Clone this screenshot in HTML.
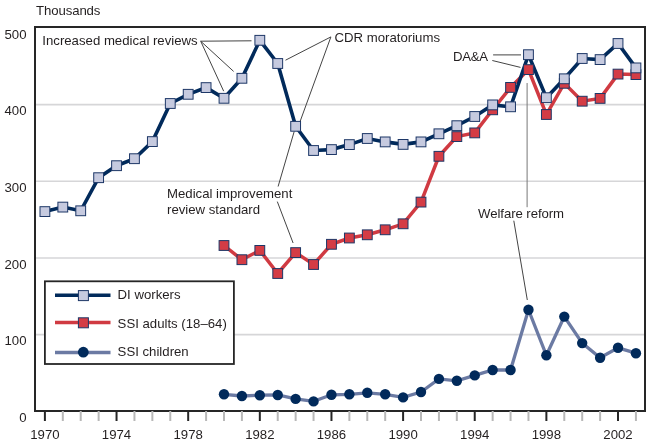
<!DOCTYPE html><html><head><meta charset="utf-8"><style>html,body{margin:0;padding:0;background:#fff;}svg{display:block;will-change:transform;}text{font-family:"Liberation Sans",sans-serif;}</style></head><body>
<svg width="650" height="444" viewBox="0 0 650 444">
<rect x="0" y="0" width="650" height="444" fill="#fff"/>
<line x1="36" y1="104.6" x2="644" y2="104.6" stroke="#d6d6d8" stroke-width="1.6"/>
<line x1="36" y1="181.3" x2="644" y2="181.3" stroke="#d6d6d8" stroke-width="1.6"/>
<line x1="36" y1="258.0" x2="644" y2="258.0" stroke="#d6d6d8" stroke-width="1.6"/>
<line x1="36" y1="334.6" x2="644" y2="334.6" stroke="#d6d6d8" stroke-width="1.6"/>
<rect x="35" y="27" width="610" height="384" fill="none" stroke="#262626" stroke-width="2"/>
<line x1="44.90" y1="411" x2="44.90" y2="421" stroke="#262626" stroke-width="2"/>
<line x1="62.81" y1="411" x2="62.81" y2="421" stroke="#b8b8b8" stroke-width="2"/>
<line x1="80.72" y1="411" x2="80.72" y2="421" stroke="#b8b8b8" stroke-width="2"/>
<line x1="98.63" y1="411" x2="98.63" y2="421" stroke="#b8b8b8" stroke-width="2"/>
<line x1="116.54" y1="411" x2="116.54" y2="421" stroke="#262626" stroke-width="2"/>
<line x1="134.45" y1="411" x2="134.45" y2="421" stroke="#b8b8b8" stroke-width="2"/>
<line x1="152.36" y1="411" x2="152.36" y2="421" stroke="#b8b8b8" stroke-width="2"/>
<line x1="170.27" y1="411" x2="170.27" y2="421" stroke="#b8b8b8" stroke-width="2"/>
<line x1="188.18" y1="411" x2="188.18" y2="421" stroke="#262626" stroke-width="2"/>
<line x1="206.09" y1="411" x2="206.09" y2="421" stroke="#b8b8b8" stroke-width="2"/>
<line x1="224.00" y1="411" x2="224.00" y2="421" stroke="#b8b8b8" stroke-width="2"/>
<line x1="241.91" y1="411" x2="241.91" y2="421" stroke="#b8b8b8" stroke-width="2"/>
<line x1="259.82" y1="411" x2="259.82" y2="421" stroke="#262626" stroke-width="2"/>
<line x1="277.73" y1="411" x2="277.73" y2="421" stroke="#b8b8b8" stroke-width="2"/>
<line x1="295.64" y1="411" x2="295.64" y2="421" stroke="#b8b8b8" stroke-width="2"/>
<line x1="313.55" y1="411" x2="313.55" y2="421" stroke="#b8b8b8" stroke-width="2"/>
<line x1="331.46" y1="411" x2="331.46" y2="421" stroke="#262626" stroke-width="2"/>
<line x1="349.37" y1="411" x2="349.37" y2="421" stroke="#b8b8b8" stroke-width="2"/>
<line x1="367.28" y1="411" x2="367.28" y2="421" stroke="#b8b8b8" stroke-width="2"/>
<line x1="385.19" y1="411" x2="385.19" y2="421" stroke="#b8b8b8" stroke-width="2"/>
<line x1="403.10" y1="411" x2="403.10" y2="421" stroke="#262626" stroke-width="2"/>
<line x1="421.01" y1="411" x2="421.01" y2="421" stroke="#b8b8b8" stroke-width="2"/>
<line x1="438.92" y1="411" x2="438.92" y2="421" stroke="#b8b8b8" stroke-width="2"/>
<line x1="456.83" y1="411" x2="456.83" y2="421" stroke="#b8b8b8" stroke-width="2"/>
<line x1="474.74" y1="411" x2="474.74" y2="421" stroke="#262626" stroke-width="2"/>
<line x1="492.65" y1="411" x2="492.65" y2="421" stroke="#b8b8b8" stroke-width="2"/>
<line x1="510.56" y1="411" x2="510.56" y2="421" stroke="#b8b8b8" stroke-width="2"/>
<line x1="528.47" y1="411" x2="528.47" y2="421" stroke="#b8b8b8" stroke-width="2"/>
<line x1="546.38" y1="411" x2="546.38" y2="421" stroke="#262626" stroke-width="2"/>
<line x1="564.29" y1="411" x2="564.29" y2="421" stroke="#b8b8b8" stroke-width="2"/>
<line x1="582.20" y1="411" x2="582.20" y2="421" stroke="#b8b8b8" stroke-width="2"/>
<line x1="600.11" y1="411" x2="600.11" y2="421" stroke="#b8b8b8" stroke-width="2"/>
<line x1="618.02" y1="411" x2="618.02" y2="421" stroke="#262626" stroke-width="2"/>
<line x1="635.93" y1="411" x2="635.93" y2="421" stroke="#b8b8b8" stroke-width="2"/>
<text x="26.5" y="38.8" font-size="13.2" fill="#231f20" text-anchor="end">500</text>
<text x="26.5" y="115.4" font-size="13.2" fill="#231f20" text-anchor="end">400</text>
<text x="26.5" y="192.1" font-size="13.2" fill="#231f20" text-anchor="end">300</text>
<text x="26.5" y="268.8" font-size="13.2" fill="#231f20" text-anchor="end">200</text>
<text x="26.5" y="345.4" font-size="13.2" fill="#231f20" text-anchor="end">100</text>
<text x="26.5" y="422" font-size="13.2" fill="#231f20" text-anchor="end">0</text>
<text x="36" y="14.6" letter-spacing="-0.1" font-size="13.2" fill="#231f20">Thousands</text>
<text x="44.90" y="438.7" font-size="13.2" fill="#231f20" text-anchor="middle">1970</text>
<text x="116.54" y="438.7" font-size="13.2" fill="#231f20" text-anchor="middle">1974</text>
<text x="188.18" y="438.7" font-size="13.2" fill="#231f20" text-anchor="middle">1978</text>
<text x="259.82" y="438.7" font-size="13.2" fill="#231f20" text-anchor="middle">1982</text>
<text x="331.46" y="438.7" font-size="13.2" fill="#231f20" text-anchor="middle">1986</text>
<text x="403.10" y="438.7" font-size="13.2" fill="#231f20" text-anchor="middle">1990</text>
<text x="474.74" y="438.7" font-size="13.2" fill="#231f20" text-anchor="middle">1994</text>
<text x="546.38" y="438.7" font-size="13.2" fill="#231f20" text-anchor="middle">1998</text>
<text x="618.02" y="438.7" font-size="13.2" fill="#231f20" text-anchor="middle">2002</text>
<line x1="200.7" y1="41.2" x2="251.5" y2="40.8" stroke="#444" stroke-width="1"/>
<line x1="200.7" y1="41.2" x2="233.6" y2="71.4" stroke="#444" stroke-width="1"/>
<line x1="200.7" y1="41.2" x2="223.7" y2="91.2" stroke="#444" stroke-width="1"/>
<line x1="330.9" y1="36.9" x2="285.5" y2="60.2" stroke="#444" stroke-width="1"/>
<line x1="330.9" y1="36.9" x2="299.9" y2="122" stroke="#444" stroke-width="1"/>
<line x1="278.1" y1="186.5" x2="294.2" y2="131.5" stroke="#444" stroke-width="1"/>
<line x1="277.3" y1="201.6" x2="293.1" y2="243" stroke="#444" stroke-width="1"/>
<line x1="493.1" y1="54.9" x2="521" y2="54.9" stroke="#444" stroke-width="1"/>
<line x1="492.3" y1="60.5" x2="520.5" y2="67.4" stroke="#444" stroke-width="1"/>
<line x1="527.1" y1="83" x2="527.1" y2="207.2" stroke="#777" stroke-width="1"/>
<line x1="513.8" y1="220.7" x2="527.3" y2="300" stroke="#444" stroke-width="1"/>
<polyline points="224.00,245.50 241.91,259.70 259.82,250.40 277.73,273.50 295.64,252.60 313.55,264.50 331.46,244.30 349.37,238.00 367.28,234.80 385.19,229.80 403.10,223.80 421.01,202.10 438.92,156.30 456.83,136.60 474.74,132.90 492.65,109.80 510.56,87.40 528.47,69.60 546.38,114.50 564.29,83.30 582.20,101.20 600.11,98.40 618.02,74.10 635.93,74.60" fill="none" stroke="#d03a42" stroke-width="3.5" stroke-linejoin="miter"/>
<polyline points="44.90,211.60 62.81,207.10 80.72,210.80 98.63,177.70 116.54,165.70 134.45,158.70 152.36,141.60 170.27,103.50 188.18,94.30 206.09,87.60 224.00,98.30 241.91,78.30 259.82,40.30 277.73,63.50 295.64,126.30 313.55,150.50 331.46,149.60 349.37,144.60 367.28,138.50 385.19,141.90 403.10,144.40 421.01,141.90 438.92,133.80 456.83,125.70 474.74,116.50 492.65,104.90 510.56,106.80 528.47,54.70 546.38,97.70 564.29,78.80 582.20,58.50 600.11,59.60 618.02,43.50 635.93,67.90" fill="none" stroke="#012a5b" stroke-width="3.6" stroke-linejoin="miter"/>
<rect x="219.10" y="240.60" width="9.8" height="9.8" fill="#d43c45" stroke="#1d3767" stroke-width="1"/>
<rect x="237.01" y="254.80" width="9.8" height="9.8" fill="#d43c45" stroke="#1d3767" stroke-width="1"/>
<rect x="254.92" y="245.50" width="9.8" height="9.8" fill="#d43c45" stroke="#1d3767" stroke-width="1"/>
<rect x="272.83" y="268.60" width="9.8" height="9.8" fill="#d43c45" stroke="#1d3767" stroke-width="1"/>
<rect x="290.74" y="247.70" width="9.8" height="9.8" fill="#d43c45" stroke="#1d3767" stroke-width="1"/>
<rect x="308.65" y="259.60" width="9.8" height="9.8" fill="#d43c45" stroke="#1d3767" stroke-width="1"/>
<rect x="326.56" y="239.40" width="9.8" height="9.8" fill="#d43c45" stroke="#1d3767" stroke-width="1"/>
<rect x="344.47" y="233.10" width="9.8" height="9.8" fill="#d43c45" stroke="#1d3767" stroke-width="1"/>
<rect x="362.38" y="229.90" width="9.8" height="9.8" fill="#d43c45" stroke="#1d3767" stroke-width="1"/>
<rect x="380.29" y="224.90" width="9.8" height="9.8" fill="#d43c45" stroke="#1d3767" stroke-width="1"/>
<rect x="398.20" y="218.90" width="9.8" height="9.8" fill="#d43c45" stroke="#1d3767" stroke-width="1"/>
<rect x="416.11" y="197.20" width="9.8" height="9.8" fill="#d43c45" stroke="#1d3767" stroke-width="1"/>
<rect x="434.02" y="151.40" width="9.8" height="9.8" fill="#d43c45" stroke="#1d3767" stroke-width="1"/>
<rect x="451.93" y="131.70" width="9.8" height="9.8" fill="#d43c45" stroke="#1d3767" stroke-width="1"/>
<rect x="469.84" y="128.00" width="9.8" height="9.8" fill="#d43c45" stroke="#1d3767" stroke-width="1"/>
<rect x="487.75" y="104.90" width="9.8" height="9.8" fill="#d43c45" stroke="#1d3767" stroke-width="1"/>
<rect x="505.66" y="82.50" width="9.8" height="9.8" fill="#d43c45" stroke="#1d3767" stroke-width="1"/>
<rect x="523.57" y="64.70" width="9.8" height="9.8" fill="#d43c45" stroke="#1d3767" stroke-width="1"/>
<rect x="541.48" y="109.60" width="9.8" height="9.8" fill="#d43c45" stroke="#1d3767" stroke-width="1"/>
<rect x="559.39" y="78.40" width="9.8" height="9.8" fill="#d43c45" stroke="#1d3767" stroke-width="1"/>
<rect x="577.30" y="96.30" width="9.8" height="9.8" fill="#d43c45" stroke="#1d3767" stroke-width="1"/>
<rect x="595.21" y="93.50" width="9.8" height="9.8" fill="#d43c45" stroke="#1d3767" stroke-width="1"/>
<rect x="613.12" y="69.20" width="9.8" height="9.8" fill="#d43c45" stroke="#1d3767" stroke-width="1"/>
<rect x="631.03" y="69.70" width="9.8" height="9.8" fill="#d43c45" stroke="#1d3767" stroke-width="1"/>
<rect x="40.00" y="206.70" width="9.8" height="9.8" fill="#c6cadf" stroke="#1d3767" stroke-width="1"/>
<rect x="57.91" y="202.20" width="9.8" height="9.8" fill="#c6cadf" stroke="#1d3767" stroke-width="1"/>
<rect x="75.82" y="205.90" width="9.8" height="9.8" fill="#c6cadf" stroke="#1d3767" stroke-width="1"/>
<rect x="93.73" y="172.80" width="9.8" height="9.8" fill="#c6cadf" stroke="#1d3767" stroke-width="1"/>
<rect x="111.64" y="160.80" width="9.8" height="9.8" fill="#c6cadf" stroke="#1d3767" stroke-width="1"/>
<rect x="129.55" y="153.80" width="9.8" height="9.8" fill="#c6cadf" stroke="#1d3767" stroke-width="1"/>
<rect x="147.46" y="136.70" width="9.8" height="9.8" fill="#c6cadf" stroke="#1d3767" stroke-width="1"/>
<rect x="165.37" y="98.60" width="9.8" height="9.8" fill="#c6cadf" stroke="#1d3767" stroke-width="1"/>
<rect x="183.28" y="89.40" width="9.8" height="9.8" fill="#c6cadf" stroke="#1d3767" stroke-width="1"/>
<rect x="201.19" y="82.70" width="9.8" height="9.8" fill="#c6cadf" stroke="#1d3767" stroke-width="1"/>
<rect x="219.10" y="93.40" width="9.8" height="9.8" fill="#c6cadf" stroke="#1d3767" stroke-width="1"/>
<rect x="237.01" y="73.40" width="9.8" height="9.8" fill="#c6cadf" stroke="#1d3767" stroke-width="1"/>
<rect x="254.92" y="35.40" width="9.8" height="9.8" fill="#c6cadf" stroke="#1d3767" stroke-width="1"/>
<rect x="272.83" y="58.60" width="9.8" height="9.8" fill="#c6cadf" stroke="#1d3767" stroke-width="1"/>
<rect x="290.74" y="121.40" width="9.8" height="9.8" fill="#c6cadf" stroke="#1d3767" stroke-width="1"/>
<rect x="308.65" y="145.60" width="9.8" height="9.8" fill="#c6cadf" stroke="#1d3767" stroke-width="1"/>
<rect x="326.56" y="144.70" width="9.8" height="9.8" fill="#c6cadf" stroke="#1d3767" stroke-width="1"/>
<rect x="344.47" y="139.70" width="9.8" height="9.8" fill="#c6cadf" stroke="#1d3767" stroke-width="1"/>
<rect x="362.38" y="133.60" width="9.8" height="9.8" fill="#c6cadf" stroke="#1d3767" stroke-width="1"/>
<rect x="380.29" y="137.00" width="9.8" height="9.8" fill="#c6cadf" stroke="#1d3767" stroke-width="1"/>
<rect x="398.20" y="139.50" width="9.8" height="9.8" fill="#c6cadf" stroke="#1d3767" stroke-width="1"/>
<rect x="416.11" y="137.00" width="9.8" height="9.8" fill="#c6cadf" stroke="#1d3767" stroke-width="1"/>
<rect x="434.02" y="128.90" width="9.8" height="9.8" fill="#c6cadf" stroke="#1d3767" stroke-width="1"/>
<rect x="451.93" y="120.80" width="9.8" height="9.8" fill="#c6cadf" stroke="#1d3767" stroke-width="1"/>
<rect x="469.84" y="111.60" width="9.8" height="9.8" fill="#c6cadf" stroke="#1d3767" stroke-width="1"/>
<rect x="487.75" y="100.00" width="9.8" height="9.8" fill="#c6cadf" stroke="#1d3767" stroke-width="1"/>
<rect x="505.66" y="101.90" width="9.8" height="9.8" fill="#c6cadf" stroke="#1d3767" stroke-width="1"/>
<rect x="523.57" y="49.80" width="9.8" height="9.8" fill="#c6cadf" stroke="#1d3767" stroke-width="1"/>
<rect x="541.48" y="92.80" width="9.8" height="9.8" fill="#c6cadf" stroke="#1d3767" stroke-width="1"/>
<rect x="559.39" y="73.90" width="9.8" height="9.8" fill="#c6cadf" stroke="#1d3767" stroke-width="1"/>
<rect x="577.30" y="53.60" width="9.8" height="9.8" fill="#c6cadf" stroke="#1d3767" stroke-width="1"/>
<rect x="595.21" y="54.70" width="9.8" height="9.8" fill="#c6cadf" stroke="#1d3767" stroke-width="1"/>
<rect x="613.12" y="38.60" width="9.8" height="9.8" fill="#c6cadf" stroke="#1d3767" stroke-width="1"/>
<rect x="631.03" y="63.00" width="9.8" height="9.8" fill="#c6cadf" stroke="#1d3767" stroke-width="1"/>
<polyline points="224.00,394.30 241.91,396.00 259.82,395.20 277.73,395.00 295.64,398.90 313.55,401.40 331.46,394.80 349.37,394.30 367.28,392.80 385.19,394.30 403.10,397.40 421.01,392.00 438.92,378.90 456.83,380.80 474.74,375.40 492.65,370.00 510.56,370.00 528.47,309.70 546.38,355.30 564.29,316.60 582.20,343.10 600.11,357.70 618.02,347.80 635.93,353.20" fill="none" stroke="#6b7aa3" stroke-width="3.3" stroke-linejoin="miter"/>
<circle cx="224.00" cy="394.30" r="5.2" fill="#012a5b"/>
<circle cx="241.91" cy="396.00" r="5.2" fill="#012a5b"/>
<circle cx="259.82" cy="395.20" r="5.2" fill="#012a5b"/>
<circle cx="277.73" cy="395.00" r="5.2" fill="#012a5b"/>
<circle cx="295.64" cy="398.90" r="5.2" fill="#012a5b"/>
<circle cx="313.55" cy="401.40" r="5.2" fill="#012a5b"/>
<circle cx="331.46" cy="394.80" r="5.2" fill="#012a5b"/>
<circle cx="349.37" cy="394.30" r="5.2" fill="#012a5b"/>
<circle cx="367.28" cy="392.80" r="5.2" fill="#012a5b"/>
<circle cx="385.19" cy="394.30" r="5.2" fill="#012a5b"/>
<circle cx="403.10" cy="397.40" r="5.2" fill="#012a5b"/>
<circle cx="421.01" cy="392.00" r="5.2" fill="#012a5b"/>
<circle cx="438.92" cy="378.90" r="5.2" fill="#012a5b"/>
<circle cx="456.83" cy="380.80" r="5.2" fill="#012a5b"/>
<circle cx="474.74" cy="375.40" r="5.2" fill="#012a5b"/>
<circle cx="492.65" cy="370.00" r="5.2" fill="#012a5b"/>
<circle cx="510.56" cy="370.00" r="5.2" fill="#012a5b"/>
<circle cx="528.47" cy="309.70" r="5.2" fill="#012a5b"/>
<circle cx="546.38" cy="355.30" r="5.2" fill="#012a5b"/>
<circle cx="564.29" cy="316.60" r="5.2" fill="#012a5b"/>
<circle cx="582.20" cy="343.10" r="5.2" fill="#012a5b"/>
<circle cx="600.11" cy="357.70" r="5.2" fill="#012a5b"/>
<circle cx="618.02" cy="347.80" r="5.2" fill="#012a5b"/>
<circle cx="635.93" cy="353.20" r="5.2" fill="#012a5b"/>
<text x="42.3" y="44.9" font-size="13.2" fill="#231f20">Increased medical reviews</text>
<text x="334.5" y="41.6" font-size="13.2" fill="#231f20">CDR moratoriums</text>
<text x="167" y="198.1" font-size="13.2" fill="#231f20">Medical improvement</text>
<text x="167" y="213.8" font-size="13.2" fill="#231f20">review standard</text>
<text x="453.1" y="61.3" letter-spacing="-0.3" font-size="13.2" fill="#231f20">DA&amp;A</text>
<text x="478.1" y="217.6" letter-spacing="-0.08" font-size="13.2" fill="#231f20">Welfare reform</text>
<rect x="44.9" y="281.3" width="189" height="82.7" fill="#fff" stroke="#262626" stroke-width="1.8"/>
<line x1="55" y1="295.2" x2="110.5" y2="295.2" stroke="#012a5b" stroke-width="3.5"/>
<rect x="78.4" y="290.6" width="10" height="10" fill="#c6cadf" stroke="#1d3767" stroke-width="1"/>
<line x1="55" y1="322.6" x2="110.5" y2="322.6" stroke="#d03a42" stroke-width="3.5"/>
<rect x="78.4" y="317.8" width="10" height="10" fill="#d43c45" stroke="#1d3767" stroke-width="1"/>
<line x1="55" y1="352.4" x2="110.5" y2="352.4" stroke="#6b7aa3" stroke-width="3.5"/>
<circle cx="83.3" cy="352.2" r="5.4" fill="#012a5b"/>
<text x="117.6" y="299.3" font-size="13.2" fill="#231f20">DI workers</text>
<text x="117.6" y="327.7" font-size="13.2" fill="#231f20">SSI adults (18–64)</text>
<text x="117.6" y="355.5" font-size="13.2" fill="#231f20">SSI children</text>
</svg></body></html>
